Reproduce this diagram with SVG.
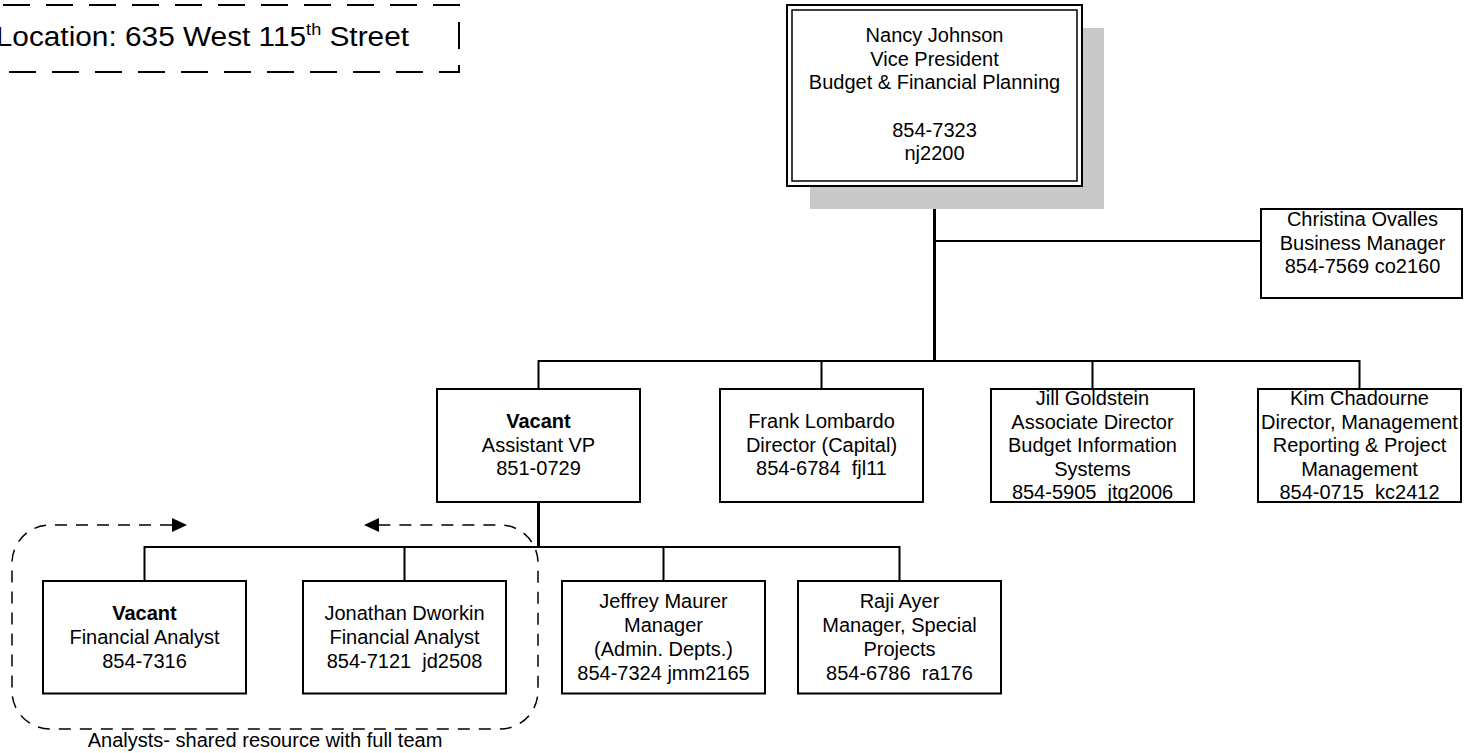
<svg xmlns="http://www.w3.org/2000/svg" width="1464" height="753" viewBox="0 0 1464 753">
<style>
text{font-family:"Liberation Sans",Arial,sans-serif;font-size:20px;fill:#000;text-anchor:middle;white-space:pre}
.box{fill:#fff;stroke:#000;stroke-width:2}
.ln{fill:none;stroke:#000;stroke-width:2}
.thick{fill:none;stroke:#000;stroke-width:3}
.b{font-weight:bold}
</style>
<g id="location">
<path d="M-40 5 H459 V72 H-40" fill="none" stroke="#000" stroke-width="2" stroke-dasharray="27 16"/>
<text x="-4" y="46" transform="scale(1.065,1)" style="text-anchor:start;font-size:28px">Location: 635 West 115<tspan font-size="17" dy="-11">th</tspan><tspan dy="11"> Street</tspan></text>
</g>
<g id="connectors">
<path class="thick" d="M934.5 186 V361"/>
<path class="ln" d="M934.5 241 H1261"/>
<path class="ln" d="M538.5 389 V361 H1359.5 V389 M821.5 361 V389 M1092.5 361 V389"/>
<path class="thick" d="M538.5 502 V547"/>
<path class="ln" d="M144.5 581 V547 H899.5 V581 M404.5 547 V581 M663.5 547 V581"/>
</g>
<g id="analysts-group">
<path d="M172 525 H50 A38 38 0 0 0 12 563 V691 A38 38 0 0 0 50 729 H500 A38 38 0 0 0 538 691 V563 A38 38 0 0 0 500 525 H379" fill="none" stroke="#000" stroke-width="1.5" stroke-dasharray="12 9"/>
<polygon points="172,518 187,525 172,532" fill="#000"/>
<polygon points="379,518 364,525 379,532" fill="#000"/>
<text x="265" y="747">Analysts- shared resource with full team</text>
</g>
<g id="nancy">
<rect x="810" y="28" width="294" height="181" fill="#c8c8c8"/>
<rect x="787" y="5" width="295" height="181" class="box"/>
<rect x="792" y="10" width="285" height="171" fill="none" stroke="#000" stroke-width="1.5"/>
<text x="934.5" y="42">Nancy Johnson</text>
<text x="934.5" y="65.5">Vice President</text>
<text x="934.5" y="89">Budget &amp; Financial Planning</text>
<text x="934.5" y="136.5">854-7323</text>
<text x="934.5" y="160">nj2200</text>
</g>
<g id="christina">
<rect x="1261" y="209" width="201" height="89" class="box"/>
<text x="1362.5" y="226">Christina Ovalles</text>
<text x="1362.5" y="249.5">Business Manager</text>
<text x="1362.5" y="273">854-7569 co2160</text>
</g>
<g id="avp">
<rect x="437" y="389" width="203" height="113" class="box"/>
<text x="538.5" y="428" class="b">Vacant</text>
<text x="538.5" y="451.5">Assistant VP</text>
<text x="538.5" y="475">851-0729</text>
</g>
<g id="frank">
<rect x="720" y="389" width="203" height="113" class="box"/>
<text x="821.5" y="428">Frank Lombardo</text>
<text x="821.5" y="451.5">Director (Capital)</text>
<text x="821.5" y="475">854-6784  fjl11</text>
</g>
<g id="jill">
<rect x="991" y="389" width="203" height="113" class="box"/>
<text x="1092.5" y="405">Jill Goldstein</text>
<text x="1092.5" y="428.5">Associate Director</text>
<text x="1092.5" y="452">Budget Information</text>
<text x="1092.5" y="475.5">Systems</text>
<text x="1092.5" y="499">854-5905  jtg2006</text>
</g>
<g id="kim">
<rect x="1258" y="389" width="203" height="113" class="box"/>
<text x="1359.5" y="405">Kim Chadourne</text>
<text x="1359.5" y="428.5">Director, Management</text>
<text x="1359.5" y="452">Reporting &amp; Project</text>
<text x="1359.5" y="475.5">Management</text>
<text x="1359.5" y="499">854-0715  kc2412</text>
</g>
<g id="fa-vacant">
<rect x="43" y="581" width="203" height="112.5" class="box"/>
<text x="144.5" y="620" class="b">Vacant</text>
<text x="144.5" y="644">Financial Analyst</text>
<text x="144.5" y="668">854-7316</text>
</g>
<g id="jonathan">
<rect x="303" y="581" width="203" height="112.5" class="box"/>
<text x="404.5" y="620">Jonathan Dworkin</text>
<text x="404.5" y="644">Financial Analyst</text>
<text x="404.5" y="668">854-7121  jd2508</text>
</g>
<g id="jeffrey">
<rect x="562" y="581" width="203" height="112.5" class="box"/>
<text x="663.5" y="608">Jeffrey Maurer</text>
<text x="663.5" y="632">Manager</text>
<text x="663.5" y="656">(Admin. Depts.)</text>
<text x="663.5" y="680">854-7324 jmm2165</text>
</g>
<g id="raji">
<rect x="798" y="581" width="203" height="112.5" class="box"/>
<text x="899.5" y="608">Raji Ayer</text>
<text x="899.5" y="632">Manager, Special</text>
<text x="899.5" y="656">Projects</text>
<text x="899.5" y="680">854-6786  ra176</text>
</g>
</svg>
